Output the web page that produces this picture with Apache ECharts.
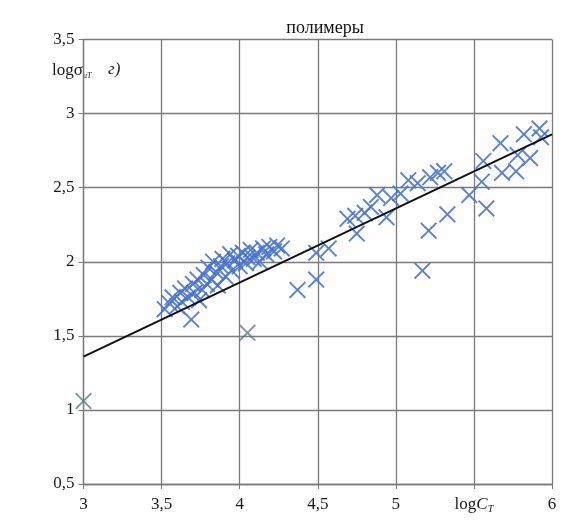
<!DOCTYPE html>
<html>
<head>
<meta charset="utf-8">
<script src="https://cdn.jsdelivr.net/npm/echarts@6/dist/echarts.min.js"></script>
<style>
  html, body { margin: 0; padding: 0; background: #fff; }
  #chart { width: 565px; height: 523px; }
</style>
</head>
<body>
<div id="chart"></div>
<script>
// Axis ticks
const xTicks = [3, 3.5, 4, 4.5, 5, 5.5, 6];
const yTicks = [0.5, 1, 1.5, 2, 2.5, 3, 3.5];

// Measured points, polymers (logC_T, logσ_иT)
const polymerPoints = [
  [3.52, 1.68], [3.55, 1.72], [3.57, 1.76], [3.60, 1.70], [3.62, 1.79],
  [3.63, 1.73], [3.65, 1.82], [3.67, 1.76], [3.69, 1.61], [3.70, 1.85],
  [3.71, 1.79], [3.73, 1.88], [3.74, 1.74], [3.76, 1.81], [3.77, 1.91],
  [3.79, 1.85], [3.80, 1.96], [3.82, 1.88], [3.83, 2.00], [3.85, 1.93],
  [3.86, 1.84], [3.88, 1.97], [3.89, 2.02], [3.91, 1.90], [3.92, 1.99],
  [3.94, 2.05], [3.95, 1.94], [3.97, 2.01], [3.99, 2.04], [4.00, 1.97],
  [4.02, 2.06], [4.04, 1.99], [4.05, 2.03], [4.07, 2.08], [4.09, 2.02],
  [4.11, 2.06], [4.13, 2.00], [4.15, 2.09], [4.17, 2.05], [4.19, 2.10],
  [4.22, 2.07], [4.24, 2.11], [4.27, 2.09],
  [4.37, 1.81], [4.49, 1.88], [4.49, 2.06], [4.57, 2.09], [4.69, 2.29],
  [4.75, 2.19], [4.74, 2.31], [4.80, 2.33], [4.84, 2.37], [4.88, 2.45],
  [4.94, 2.30], [4.97, 2.43], [5.03, 2.46], [5.08, 2.55], [5.14, 2.53],
  [5.17, 1.94], [5.21, 2.21], [5.22, 2.57], [5.27, 2.60], [5.31, 2.61],
  [5.33, 2.32], [5.47, 2.45], [5.55, 2.54], [5.56, 2.68], [5.58, 2.36],
  [5.67, 2.80], [5.68, 2.60], [5.77, 2.61], [5.78, 2.72], [5.82, 2.86],
  [5.86, 2.70], [5.92, 2.90], [5.93, 2.84]
];

// Points drawn in the darker grey-green tone
const otherPoints = [[3.00, 1.06], [4.05, 1.52]];

// Linear trend line end points
const trendLine = [[3, 1.36], [6, 2.86]];

// Thin cross marker
const crossPath = 'path://M0,8L8,0L50,42L92,0L100,8L58,50L100,92L92,100L50,58L8,100L0,92L42,50Z';

const fmt = v => String(v).replace('.', ',');
const serif = 'Liberation Serif';

const chart = echarts.init(document.getElementById('chart'));
chart.setOption({
  backgroundColor: '#fff',
  animation: false,
  title: {
    text: 'полимеры',
    left: 320,
    textAlign: 'center',
    top: 14,
    textStyle: { fontFamily: serif, fontSize: 18, fontWeight: 'normal', color: '#111' }
  },
  grid: { left: 83.5, right: 13, top: 39.5, bottom: 39 },
  xAxis: {
    type: 'value',
    min: 3, max: 6, interval: 0.5,
    axisLine: { show: true, lineStyle: { color: '#7a7a7a', width: 1.3 } },
    axisTick: { show: true, length: 5, lineStyle: { color: '#7a7a7a' } },
    splitLine: { show: true, lineStyle: { color: '#7a7a7a', width: 1.3 } },
    axisLabel: {
      margin: 12,
      fontFamily: serif, fontSize: 17, color: '#1a1a1a',
      formatter: v => v === 5.5 ? '{b|log}{i|C}{s|T}' : (xTicks.includes(v) ? fmt(v) : ''),
      rich: {
        b: { fontFamily: serif, fontSize: 17, color: '#1a1a1a' },
        i: { fontFamily: serif, fontSize: 17, fontStyle: 'italic', color: '#1a1a1a' },
        s: { fontFamily: serif, fontSize: 10, fontStyle: 'italic', color: '#1a1a1a', padding: [8, 0, 0, 0] }
      }
    }
  },
  yAxis: {
    type: 'value',
    min: 0.5, max: 3.5, interval: 0.5,
    axisLine: { show: true, lineStyle: { color: '#7a7a7a', width: 1.3 } },
    axisTick: { show: true, length: 5, lineStyle: { color: '#7a7a7a' } },
    splitLine: { show: true, lineStyle: { color: '#7a7a7a', width: 1.3 } },
    axisLabel: {
      margin: 9,
      fontFamily: serif, fontSize: 17, color: '#1a1a1a',
      formatter: v => yTicks.includes(v) ? fmt(v) : ''
    }
  },
  graphic: [
    {
      type: 'text', left: 52, top: 62,
      style: {
        text: '{b|logσ}{s|иT}',
        rich: {
          b: { fontFamily: serif, fontSize: 17, fill: '#1a1a1a' },
          s: { fontFamily: serif, fontSize: 8, fontStyle: 'italic', fill: '#1a1a1a', padding: [10, 0, 0, 0] }
        }
      }
    },
    {
      type: 'text', left: 108, top: 61,
      style: { text: 'г)', fontFamily: serif, fontSize: 17, fontStyle: 'italic', fill: '#1a1a1a' }
    }
  ],
  series: [
    {
      type: 'scatter',
      data: polymerPoints,
      symbol: crossPath,
      symbolSize: 17,
      itemStyle: { color: '#4a74cc', opacity: 0.9 },
      z: 3
    },
    {
      type: 'scatter',
      data: otherPoints,
      symbol: crossPath,
      symbolSize: 17,
      itemStyle: { color: '#5f8082' },
      z: 3
    },
    {
      type: 'line',
      data: trendLine,
      symbol: 'none',
      lineStyle: { color: '#111', width: 2 },
      z: 4
    }
  ]
});
</script>
</body>
</html>
